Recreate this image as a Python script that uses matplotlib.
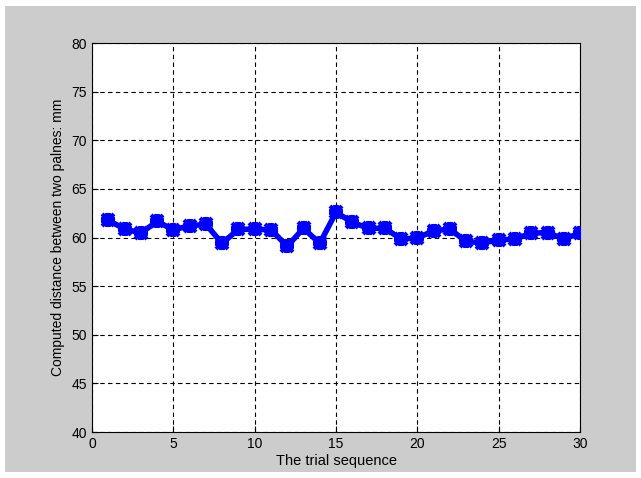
import matplotlib
matplotlib.use("Agg")
import matplotlib.pyplot as plt
import matplotlib.patches as patches

# Datos
ensayos = list(range(1, 31))
distancias = [61.75, 60.9, 60.45, 61.65, 60.8, 61.2, 61.35, 59.4, 60.85, 60.85,
              60.8, 59.1, 60.95, 59.4, 62.6, 61.55, 60.95, 60.95, 59.85, 59.95,
              60.7, 60.85, 59.6, 59.45, 59.75, 59.85, 60.45, 60.5, 59.85, 60.45]

xticks = [0, 5, 10, 15, 20, 25, 30]
yticks = [40, 45, 50, 55, 60, 65, 70, 75, 80]

plt.rcParams['font.family'] = ['Liberation Sans', 'DejaVu Sans']

fig = plt.figure(figsize=(6.41, 4.78), dpi=100)
fig.patch.set_facecolor('white')
# fondo gris con un borde blanco fino
fig.patches.append(patches.Rectangle((0.008, 0.012), 0.984, 0.975, transform=fig.transFigure,
                                     facecolor='#cccccc', edgecolor='none', zorder=-1))

ax = fig.add_axes([0.1435, 0.0962, 0.7615, 0.8138])
ax.set_facecolor('white')

ax.plot(ensayos, distancias, color='blue', linewidth=4, marker='8', markersize=9,
        markeredgewidth=1.5, markeredgecolor='blue', zorder=3)
ax.plot(ensayos, distancias, linestyle='none', marker='x', markersize=9,
        markeredgewidth=3, color='blue', zorder=3)

ax.set_xlim(0, 30)
ax.set_ylim(40, 80)
ax.set_xticks(xticks)
ax.set_yticks(yticks)
ax.grid(True, color='black', linestyle=(0, (4, 3)), linewidth=0.8)
ax.tick_params(direction='in', labelsize=10, length=4)

ax.set_xlabel("The trial sequence", fontsize=10.5, labelpad=2)
ax.set_ylabel("Computed distance between two palnes: mm", fontsize=10, labelpad=5)

for s in ax.spines.values():
    s.set_linewidth(0.8)

plt.savefig("out.png", dpi=100, facecolor=fig.get_facecolor())
